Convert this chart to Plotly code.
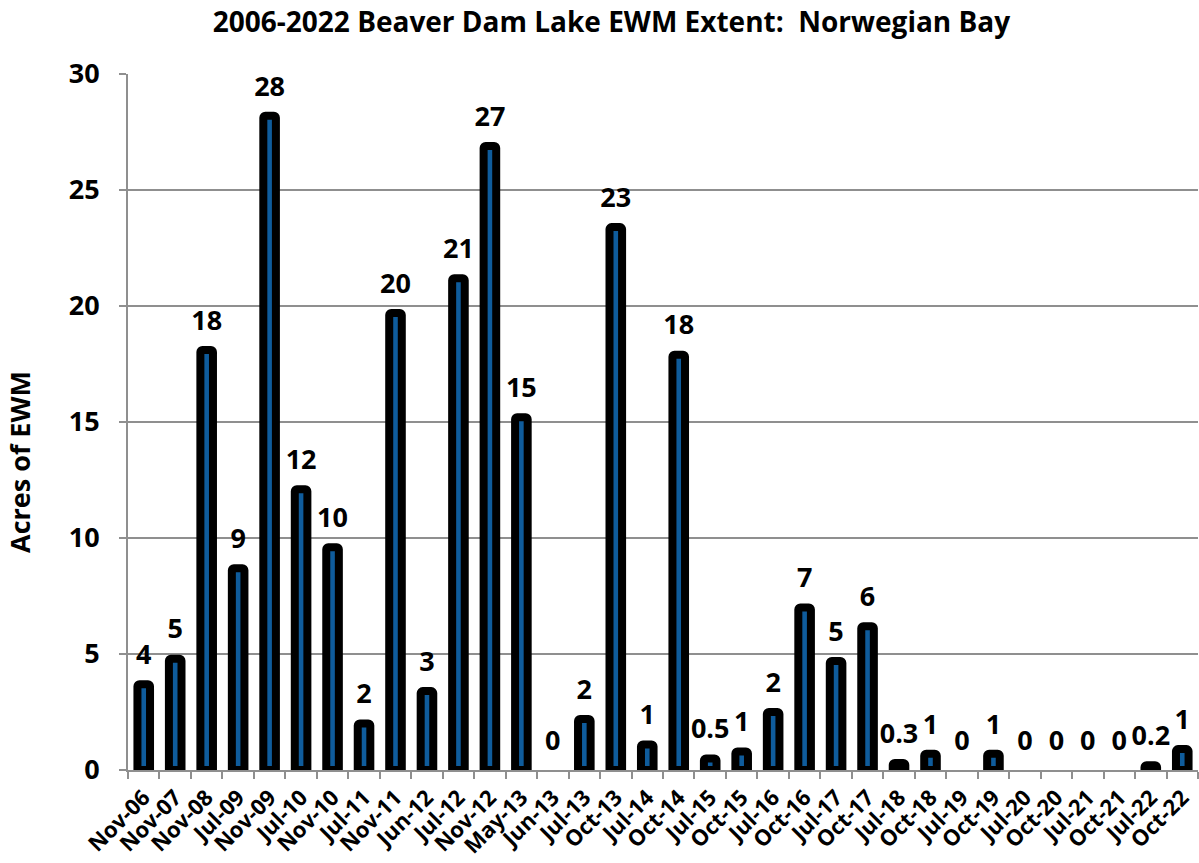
import plotly.graph_objects as go

# Survey dates and measured EWM extent (acres) for Norwegian Bay
surveys = ["Nov-06", "Nov-07", "Nov-08", "Jul-09", "Nov-09", "Jul-10", "Nov-10",
           "Jul-11", "Nov-11", "Jun-12", "Jul-12", "Nov-12", "May-13", "Jun-13",
           "Jul-13", "Oct-13", "Jul-14", "Oct-14", "Jul-15", "Oct-15", "Jul-16",
           "Oct-16", "Jul-17", "Oct-17", "Jul-18", "Oct-18", "Jul-19", "Oct-19",
           "Jul-20", "Oct-20", "Jul-21", "Oct-21", "Jul-22", "Oct-22"]
acres = [3.7, 4.8, 18.1, 8.7, 28.2, 12.1, 9.6, 2.0, 19.7, 3.4, 21.2, 26.9, 15.2, 0.0,
         2.2, 23.4, 1.1, 17.9, 0.5, 0.8, 2.5, 7.0, 4.7, 6.2, 0.3, 0.7, 0.0, 0.7,
         0.0, 0.0, 0.0, 0.0, 0.2, 0.9]
# Rounded figures printed above each bar
bar_labels = ["4", "5", "18", "9", "28", "12", "10", "2", "20", "3", "21", "27", "15", "0",
              "2", "23", "1", "18", "0.5", "1", "2", "7", "5", "6", "0.3", "1", "0", "1",
              "0", "0", "0", "0", "0.2", "1"]
y_ticks = [0, 5, 10, 15, 20, 25, 30]

FONT = "Open Sans"
GRID = "#8f8f8f"

# no outline on empty surveys so they stay invisible
outline_widths = [8 if v > 0 else 0 for v in acres]

fig = go.Figure()
fig.add_trace(
    go.Bar(
        x=surveys,
        y=acres,
        marker=dict(color="#0f5c9c", line=dict(color="black", width=outline_widths),
                    cornerradius=2),
        width=0.4,
        hoverinfo="x+y",
    )
)
# value labels: an invisible marker at each bar top pushes the text up a little
fig.add_trace(
    go.Scatter(
        x=surveys,
        y=acres,
        mode="markers+text",
        text=bar_labels,
        textposition="top center",
        textfont=dict(family=FONT, size=27, color="black", weight="bold"),
        marker=dict(size=20, opacity=0),
        cliponaxis=False,
        hoverinfo="skip",
    )
)

fig.update_layout(
    width=1199,
    height=863,
    margin=dict(l=128, r=1, t=74, b=93, autoexpand=False),
    paper_bgcolor="white",
    plot_bgcolor="white",
    showlegend=False,
    font=dict(family=FONT, color="black"),
    title=dict(
        text="2006-2022 Beaver Dam Lake EWM Extent:  Norwegian Bay",
        x=0.51, xanchor="center", y=0.974, yanchor="middle",
        font=dict(family=FONT, size=28, color="black", weight="bold"),
    ),
    xaxis=dict(
        type="category",
        range=[-0.5, len(surveys) - 0.5],
        tickmode="linear", tick0=0, dtick=1,
        tickangle=-45,
        tickfont=dict(family=FONT, size=22, color="black", weight="bold"),
        showline=True, linecolor=GRID, linewidth=2,
        ticks="outside", tickson="boundaries", ticklen=7, tickcolor=GRID, tickwidth=2,
        ticklabelstandoff=4,
        showgrid=False,
        automargin=False,
    ),
    yaxis=dict(
        range=[0, 30],
        tickvals=y_ticks,
        tickfont=dict(family=FONT, size=27, color="black", weight="bold"),
        showline=True, linecolor=GRID, linewidth=2,
        ticks="outside", ticklen=7, tickcolor=GRID, tickwidth=2,
        ticklabelstandoff=14,
        showgrid=True, gridcolor=GRID, gridwidth=2,
        zeroline=False,
        automargin=False,
    ),
    annotations=[
        dict(
            text="Acres of EWM", textangle=-90,
            xref="paper", yref="paper", x=-0.1019, y=0.4425,
            xanchor="center", yanchor="middle", showarrow=False,
            font=dict(family=FONT, size=27, color="black", weight="bold"),
        )
    ],
)

fig.write_html("out.html")
